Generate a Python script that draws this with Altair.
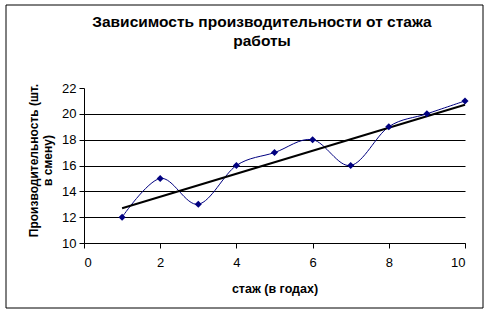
import altair as alt
import pandas as pd

stazh = [1, 2, 3, 4, 5, 6, 7, 8, 9, 10]
proizv = [12, 15, 13, 16, 17, 18, 16, 19, 20, 21]
y_ticks = [10, 12, 14, 16, 18, 20, 22]
x_ticks = [0, 2, 4, 6, 8, 10]
title_text = "Зависимость производительности от стажа\nработы"

df = pd.DataFrame({"x": stazh, "y": proizv})
FONT = "Liberation Sans"

xs = alt.X("x:Q", scale=alt.Scale(domain=[0, 10], nice=False),
           axis=alt.Axis(values=x_ticks, title="стаж (в годах)", grid=False, labelOverlap=False,
                         tickSize=5, labelPadding=8, titleY=49, titleBaseline="alphabetic",
                         labelFontSize=13, titleFontSize=12.5, titleFontWeight="bold"))
ys = alt.Y("y:Q", scale=alt.Scale(domain=[10, 22], nice=False),
           axis=alt.Axis(values=y_ticks, title=["Производительность (шт.", "в смену)"],
                         grid=True, gridColor="black", gridWidth=1, labelOverlap=False,
                         gridOpacity=alt.condition("datum.value === 22", alt.value(0), alt.value(1)),
                         tickSize=5, labelPadding=3,
                         titleAngle=270, titleX=-51, titleY=72, titleBaseline="middle",
                         labelFontSize=13, titleFontSize=12, titleFontWeight="bold"))

base = alt.Chart(df)
curve = base.mark_line(interpolate="cardinal", color="#000080", strokeWidth=1).encode(x=xs, y=ys)
pts = base.mark_point(shape="diamond", filled=True, color="#000080", size=50, opacity=1).encode(x=xs, y=ys)
trend = base.transform_regression("x", "y").mark_line(color="black", strokeWidth=2).encode(x=xs, y=ys)

one = alt.Data(values=[{"a": 1}])
frame = alt.Chart(one).mark_rect(fill=None, stroke="black", strokeWidth=1).encode(
    x=alt.value(-78), x2=alt.value(399), y=alt.value(-83), y2=alt.value(220))
title = alt.Chart(one).mark_text(font=FONT, fontSize=15.5, fontWeight="bold", color="black",
                                 align="center", baseline="alphabetic", lineBreak="\n",
                                 lineHeight=19).encode(
    x=alt.value(178), y=alt.value(-61), text=alt.value(title_text))

chart = alt.layer(frame, title, curve, trend, pts).properties(
    width=381, height=155,
    autosize=alt.AutoSizeParams(type="none"),
    padding={"left": 84, "top": 88, "right": 25, "bottom": 72},
    background="white",
).configure_view(stroke=None).configure_axis(
    labelFont=FONT, titleFont=FONT, labelColor="black", titleColor="black",
    domainColor="black", tickColor="black", domainWidth=1, tickWidth=1,
)

chart.save("out.html", embed_options={"renderer": "svg", "actions": False})
